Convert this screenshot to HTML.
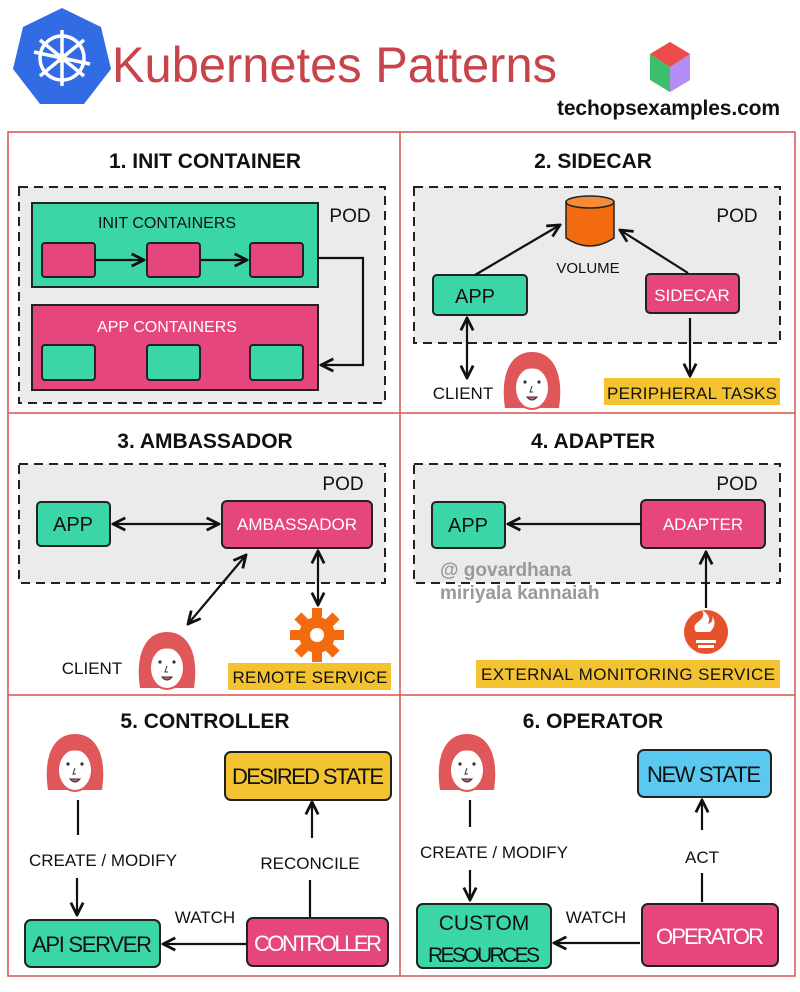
<!DOCTYPE html>
<html><head><meta charset="utf-8"><style>
html,body{margin:0;padding:0;background:#fff}
svg{display:block}
text{font-family:"Liberation Sans Narrow","Liberation Sans",sans-serif}
</style></head><body>
<svg width="800" height="992" viewBox="0 0 800 992" xmlns="http://www.w3.org/2000/svg">
<defs>
<marker id="a" viewBox="0 0 10 10" refX="9" refY="5" markerWidth="7" markerHeight="7" orient="auto-start-reverse"><path d="M1,1 L9,5 L1,9" fill="none" stroke="#111" stroke-width="1.8"/></marker>
<g id="face">
<path d="M-27,28 C-32,-5 -22,-28 0,-28 C22,-28 32,-5 27,28 Z" fill="#e0575a"/>
<ellipse cx="0" cy="8" rx="17" ry="21" fill="#fff" stroke="#e0575a" stroke-width="2"/>
<path d="M-17,-4 C-10,-14 10,-14 17,-4 L17,-12 L-17,-12 Z" fill="#e0575a"/>
<circle cx="-7" cy="2" r="1.6" fill="#333"/><circle cx="7" cy="2" r="1.6" fill="#333"/>
<path d="M0,6 l-2,6 h3" fill="none" stroke="#333" stroke-width="1"/>
<path d="M-5,17 q5,6 10,0 z" fill="#e0575a" stroke="#333" stroke-width="1"/>
</g>
</defs>
<g stroke="#111" stroke-width="2" fill="none">
</g>
<!-- header -->
<polygon points="62,8 101,27 111,69 84,104 40,104 13,69 23,27" fill="#326ce5"/>
<g stroke="#fff" stroke-width="3.5" fill="none">
<circle cx="62" cy="58" r="22"/>
<line x1="62" y1="30" x2="62" y2="86"/><line x1="34" y1="52" x2="90" y2="64"/><line x1="40" y1="76" x2="84" y2="40"/><line x1="40" y1="40" x2="84" y2="76"/>
</g>
<circle cx="62" cy="58" r="5" fill="#fff"/>
<text x="112" y="82" font-size="50" fill="#c9444a" textLength="445" lengthAdjust="spacingAndGlyphs" style="font-family:'Liberation Sans',sans-serif">Kubernetes Patterns</text>
<polygon points="670,42 690,54 690,80 670,92 650,80 650,54" fill="#f5b83d"/>
<polygon points="670,42 690,54 670,67 650,54" fill="#ee4b4b"/>
<polygon points="650,54 670,67 670,92 650,80" fill="#3cbf6a"/>
<polygon points="690,54 690,80 670,92 670,67" fill="#b38cf5"/>
<text x="557" y="115" font-size="21" fill="#111" font-weight="bold" textLength="223" style="font-family:'Liberation Sans',sans-serif">techopsexamples.com</text>
<!-- grid -->
<g stroke="#d9534f" stroke-width="1.5" fill="none">
<rect x="8" y="132" width="787" height="844"/>
<line x1="400" y1="132" x2="400" y2="976"/><line x1="8" y1="413" x2="795" y2="413"/><line x1="8" y1="695" x2="795" y2="695"/>
</g>
<g font-size="21" font-weight="bold" fill="#111" text-anchor="middle">
<text x="205" y="168">1. INIT CONTAINER</text><text x="593" y="168">2. SIDECAR</text>
<text x="205" y="448">3. AMBASSADOR</text><text x="593" y="448">4. ADAPTER</text>
<text x="205" y="728">5. CONTROLLER</text><text x="593" y="728">6. OPERATOR</text>
</g>
<!-- pods -->
<g fill="#ebebeb" stroke="#222" stroke-width="2" stroke-dasharray="9,6">
<rect x="19" y="187" width="366" height="216"/><rect x="414" y="187" width="366" height="156"/>
<rect x="19" y="464" width="366" height="119"/><rect x="414" y="464" width="366" height="119"/>
</g>
<g font-size="19" fill="#111" text-anchor="middle">
<text x="350" y="222">POD</text><text x="737" y="222">POD</text><text x="343" y="490">POD</text><text x="737" y="490">POD</text>
</g>
<!-- panel 1 -->
<g stroke="#222" stroke-width="2">
<rect x="32" y="203" width="286" height="84" fill="#3ad6a8"/>
<rect x="32" y="305" width="286" height="85" fill="#e5467d"/>
<rect x="42" y="243" width="53" height="34" rx="3" fill="#e5467d"/><rect x="147" y="243" width="53" height="34" rx="3" fill="#e5467d"/><rect x="250" y="243" width="53" height="34" rx="3" fill="#e5467d"/>
<rect x="42" y="345" width="53" height="35" rx="3" fill="#3ad6a8"/><rect x="147" y="345" width="53" height="35" rx="3" fill="#3ad6a8"/><rect x="250" y="345" width="53" height="35" rx="3" fill="#3ad6a8"/>
</g>
<g stroke="#111" stroke-width="2.2" fill="none" marker-end="url(#a)">
<line x1="96" y1="260" x2="144" y2="260"/><line x1="201" y1="260" x2="247" y2="260"/>
<polyline points="318,258 363,258 363,365 321,365"/>
</g>
<text x="167" y="228" font-size="16" text-anchor="middle" fill="#111">INIT CONTAINERS</text>
<text x="167" y="332" font-size="16" text-anchor="middle" fill="#fff">APP CONTAINERS</text>
<!-- panel 2 -->
<path d="M566,202 v36 q24,16 48,0 v-36 z" fill="#f26b0f" stroke="#222" stroke-width="1.5"/>
<ellipse cx="590" cy="202" rx="24" ry="6" fill="#f58a3a" stroke="#222" stroke-width="1.5"/>
<text x="588" y="273" font-size="15" text-anchor="middle" fill="#111">VOLUME</text>
<rect x="433" y="275" width="94" height="40" rx="4" fill="#3ad6a8" stroke="#222" stroke-width="2"/>
<text x="475" y="303" font-size="20" text-anchor="middle" fill="#111">APP</text>
<rect x="646" y="274" width="93" height="39" rx="4" fill="#e5467d" stroke="#222" stroke-width="2"/>
<text x="692" y="301" font-size="17" text-anchor="middle" fill="#fff">SIDECAR</text>
<g stroke="#111" stroke-width="2.2" fill="none" marker-end="url(#a)">
<line x1="475" y1="275" x2="560" y2="225"/><line x1="688" y1="273" x2="620" y2="230"/>
<line x1="467" y1="318" x2="467" y2="378" marker-start="url(#a)"/>
<line x1="690" y1="318" x2="690" y2="376"/>
</g>
<text x="463" y="399" font-size="17" text-anchor="middle" fill="#111">CLIENT</text>
<use href="#face" x="532" y="380"/>
<rect x="604" y="378" width="176" height="27" fill="#f2c230"/>
<text x="692" y="399" font-size="17" text-anchor="middle" fill="#111" textLength="170">PERIPHERAL TASKS</text>
<!-- panel 3 -->
<rect x="37" y="502" width="73" height="44" rx="4" fill="#3ad6a8" stroke="#222" stroke-width="2"/>
<text x="73" y="531" font-size="20" text-anchor="middle" fill="#111">APP</text>
<rect x="222" y="501" width="150" height="47" rx="5" fill="#e5467d" stroke="#222" stroke-width="2"/>
<text x="297" y="530" font-size="17" text-anchor="middle" fill="#fff">AMBASSADOR</text>
<g stroke="#111" stroke-width="2.2" fill="none" marker-end="url(#a)" marker-start="url(#a)">
<line x1="113" y1="524" x2="219" y2="524"/><line x1="188" y1="624" x2="246" y2="555"/><line x1="318" y1="551" x2="318" y2="605"/>
</g>
<use href="#face" x="167" y="660"/>
<text x="92" y="674" font-size="17" text-anchor="middle" fill="#111">CLIENT</text>
<g transform="translate(317,635)" fill="#f26b0f">
<circle r="18"/>
<g><rect x="-5" y="-27" width="10" height="12"/><rect x="-5" y="15" width="10" height="12"/><rect x="-27" y="-5" width="12" height="10"/><rect x="15" y="-5" width="12" height="10"/></g>
<g transform="rotate(45)"><rect x="-5" y="-27" width="10" height="12"/><rect x="-5" y="15" width="10" height="12"/><rect x="-27" y="-5" width="12" height="10"/><rect x="15" y="-5" width="12" height="10"/></g>
<circle r="7" fill="#fff"/>
</g>
<rect x="228" y="663" width="163" height="27" fill="#f2c230"/>
<text x="310" y="683" font-size="17" text-anchor="middle" fill="#111" textLength="155">REMOTE SERVICE</text>
<!-- panel 4 -->
<rect x="432" y="502" width="73" height="46" rx="4" fill="#3ad6a8" stroke="#222" stroke-width="2"/>
<text x="468" y="532" font-size="20" text-anchor="middle" fill="#111">APP</text>
<rect x="641" y="500" width="124" height="48" rx="5" fill="#e5467d" stroke="#222" stroke-width="2"/>
<text x="703" y="530" font-size="17" text-anchor="middle" fill="#fff">ADAPTER</text>
<g stroke="#111" stroke-width="2.2" fill="none" marker-end="url(#a)">
<line x1="641" y1="524" x2="508" y2="524"/><line x1="706" y1="608" x2="706" y2="552"/>
</g>
<text x="440" y="576" font-size="19" fill="#999" font-weight="bold" style="font-family:'Liberation Sans',sans-serif">@ govardhana</text>
<text x="440" y="599" font-size="19" fill="#999" font-weight="bold" style="font-family:'Liberation Sans',sans-serif">miriyala kannaiah</text>
<circle cx="706" cy="632" r="22" fill="#e6522c"/>
<path d="M698,622 q8,-6 4,-12 q10,6 6,14 q6,-2 4,-8 q6,8 -2,16 h-14 q-4,-6 2,-10z" fill="#fff"/>
<rect x="696" y="640" width="20" height="3" fill="#fff"/><rect x="698" y="645" width="16" height="3" fill="#fff"/>
<rect x="476" y="660" width="304" height="28" fill="#f2c230"/>
<text x="628" y="680" font-size="17" text-anchor="middle" fill="#111" textLength="294">EXTERNAL MONITORING SERVICE</text>
<!-- panel 5 -->
<use href="#face" x="75" y="762"/>
<g stroke="#111" stroke-width="2.2" fill="none">
<line x1="78" y1="800" x2="78" y2="835"/><line x1="310" y1="917" x2="310" y2="880"/>
<line x1="470" y1="800" x2="470" y2="827"/><line x1="702" y1="902" x2="702" y2="873"/>
</g>
<g stroke="#111" stroke-width="2.2" fill="none" marker-end="url(#a)">
<line x1="77" y1="878" x2="77" y2="915"/><line x1="247" y1="944" x2="163" y2="944"/><line x1="312" y1="838" x2="312" y2="802"/>
<line x1="470" y1="870" x2="470" y2="900"/><line x1="640" y1="943" x2="554" y2="943"/><line x1="702" y1="830" x2="702" y2="800"/>
</g>
<text x="103" y="866" font-size="17" text-anchor="middle" fill="#111">CREATE / MODIFY</text>
<rect x="225" y="752" width="166" height="48" rx="6" fill="#f2c230" stroke="#222" stroke-width="2"/>
<text x="308" y="784" font-size="22" text-anchor="middle" fill="#111" textLength="152">DESIRED STATE</text>
<text x="310" y="869" font-size="17" text-anchor="middle" fill="#111">RECONCILE</text>
<text x="205" y="923" font-size="17" text-anchor="middle" fill="#111">WATCH</text>
<rect x="25" y="920" width="135" height="47" rx="6" fill="#3ad6a8" stroke="#222" stroke-width="2"/>
<text x="92" y="952" font-size="22" text-anchor="middle" fill="#111" textLength="120">API SERVER</text>
<rect x="247" y="918" width="141" height="48" rx="6" fill="#e5467d" stroke="#222" stroke-width="2"/>
<text x="318" y="951" font-size="22" text-anchor="middle" fill="#fff" textLength="128">CONTROLLER</text>
<!-- panel 6 -->
<use href="#face" x="467" y="762"/>
<text x="494" y="858" font-size="17" text-anchor="middle" fill="#111">CREATE / MODIFY</text>
<rect x="638" y="750" width="133" height="47" rx="6" fill="#5bc8ef" stroke="#222" stroke-width="2"/>
<text x="704" y="782" font-size="22" text-anchor="middle" fill="#111" textLength="114">NEW STATE</text>
<text x="702" y="863" font-size="17" text-anchor="middle" fill="#111">ACT</text>
<text x="596" y="923" font-size="17" text-anchor="middle" fill="#111">WATCH</text>
<rect x="417" y="904" width="134" height="64" rx="6" fill="#3ad6a8" stroke="#222" stroke-width="2"/>
<text x="484" y="930" font-size="21" text-anchor="middle" fill="#111">CUSTOM</text>
<text x="484" y="962" font-size="21" text-anchor="middle" fill="#111" textLength="112">RESOURCES</text>
<rect x="642" y="904" width="136" height="62" rx="6" fill="#e5467d" stroke="#222" stroke-width="2"/>
<text x="710" y="944" font-size="22" text-anchor="middle" fill="#fff" textLength="108">OPERATOR</text>
</svg>
</body></html>
